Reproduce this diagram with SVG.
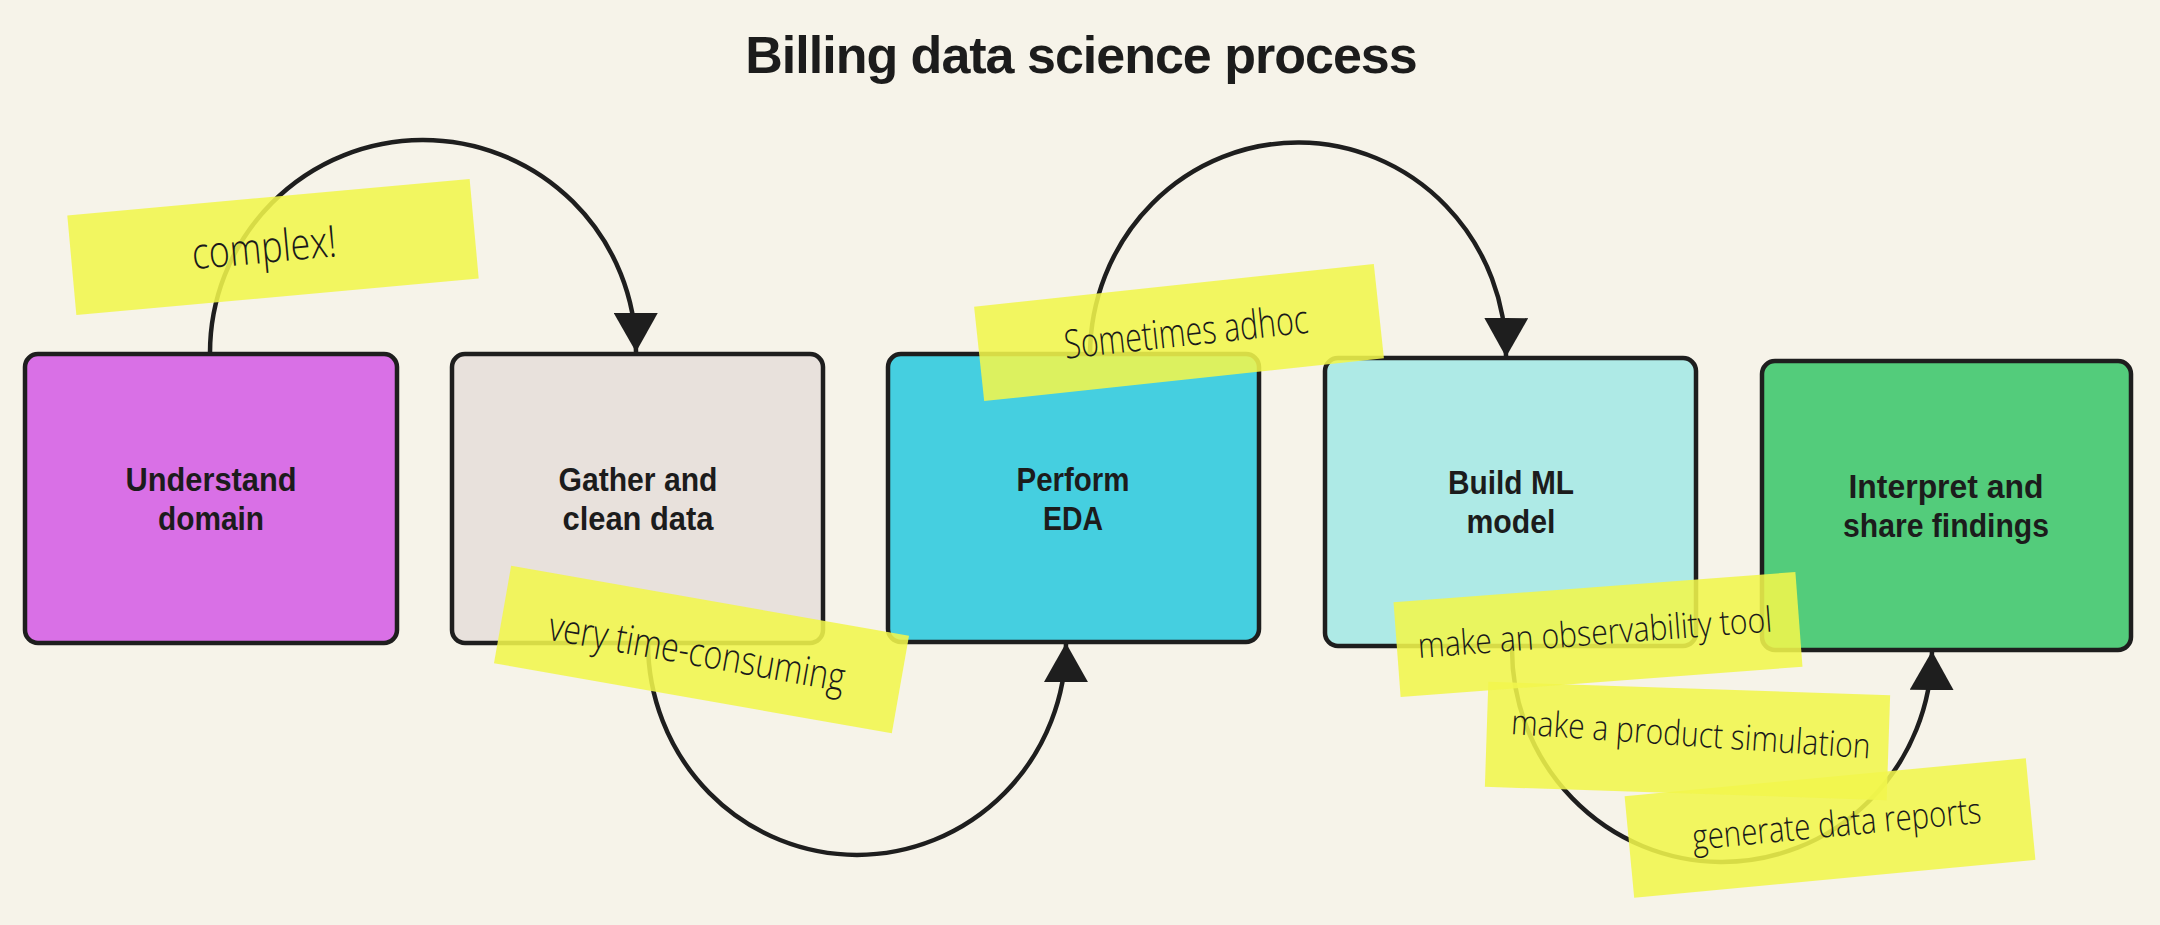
<svg xmlns="http://www.w3.org/2000/svg" width="2160" height="925" viewBox="0 0 2160 925">
<defs>
<style>
.bg{fill:#f6f3e9}
.box{stroke:#1e1e1e;stroke-width:4.5}
.lbl{font-family:"Liberation Sans",Arial,sans-serif;font-weight:700;font-size:34px;fill:#1c1c1c;text-anchor:middle}
.title{font-family:"Liberation Sans",Arial,sans-serif;font-weight:700;font-size:52px;letter-spacing:-1px;fill:#1c1c1c;text-anchor:middle}
.conn{fill:none;stroke:#1e1e1e;stroke-width:4.5}
.note{fill:#f1f64c;fill-opacity:0.88}
.hand{font-family:"Open Sans",Lato,"DejaVu Sans",sans-serif;font-weight:300;fill:#1a1a1a;text-anchor:middle}
</style>
<marker id="arrow" markerUnits="userSpaceOnUse" markerWidth="40" markerHeight="44" refX="39" refY="22" orient="auto">
<path d="M0,0 L39,22 L0,44 Z" fill="#1e1e1e"/>
</marker>
</defs>
<rect class="bg" x="0" y="0" width="2160" height="925"/>
<text class="title" x="1081" y="73">Billing data science process</text>

<g id="connectors">
<path class="conn" d="M210,354 A213,213 0 0 1 636,352" marker-end="url(#arrow)"/>
<path class="conn" d="M648,643 A209,212 0 0 0 1066,643" marker-end="url(#arrow)"/>
<path class="conn" d="M1090,354 A208,213 0 0 1 1506,357" marker-end="url(#arrow)"/>
<path class="conn" d="M1512,647 A210,213 0 0 0 1932,651" marker-end="url(#arrow)"/>
</g>

<g id="node-understand">
<rect class="box" x="25" y="354" width="372" height="289" rx="13" fill="#d970e6"/>
<text class="lbl" x="211" y="491" textLength="171" lengthAdjust="spacingAndGlyphs">Understand</text>
<text class="lbl" x="211" y="530" textLength="106" lengthAdjust="spacingAndGlyphs">domain</text>
</g>
<g id="node-gather">
<rect class="box" x="452" y="354" width="371" height="289" rx="13" fill="#e8e1dc"/>
<text class="lbl" x="638" y="491" textLength="159" lengthAdjust="spacingAndGlyphs">Gather and</text>
<text class="lbl" x="638" y="530" textLength="151" lengthAdjust="spacingAndGlyphs">clean data</text>
</g>
<g id="node-eda">
<rect class="box" x="888" y="354" width="371" height="288" rx="13" fill="#45cfe0"/>
<text class="lbl" x="1073" y="491" textLength="113" lengthAdjust="spacingAndGlyphs">Perform</text>
<text class="lbl" x="1073" y="530" textLength="60" lengthAdjust="spacingAndGlyphs">EDA</text>
</g>
<g id="node-ml">
<rect class="box" x="1325" y="358" width="371" height="288" rx="13" fill="#aeeae6"/>
<text class="lbl" x="1511" y="494" textLength="126" lengthAdjust="spacingAndGlyphs">Build ML</text>
<text class="lbl" x="1511" y="533" textLength="89" lengthAdjust="spacingAndGlyphs">model</text>
</g>
<g id="node-share">
<rect class="box" x="1762" y="361" width="369" height="289" rx="13" fill="#53cc7b"/>
<text class="lbl" x="1946" y="498" textLength="195" lengthAdjust="spacingAndGlyphs">Interpret and</text>
<text class="lbl" x="1946" y="537" textLength="206" lengthAdjust="spacingAndGlyphs">share findings</text>
</g>

<g id="note-complex" transform="translate(273,247) rotate(-5.2)">
<rect class="note" x="-202" y="-50" width="404" height="100"/>
<text class="hand" x="-9" y="15" font-size="44" textLength="145" lengthAdjust="spacingAndGlyphs">complex!</text>
</g>
<g id="note-time" transform="translate(701.5,649.5) rotate(10)">
<rect class="note" x="-202" y="-49.5" width="404" height="99"/>
<text class="hand" x="-4" y="17" font-size="40" textLength="300" lengthAdjust="spacingAndGlyphs">very time-consuming</text>
</g>
<g id="note-adhoc" transform="translate(1179,332.5) rotate(-6.1)">
<rect class="note" x="-201" y="-47.5" width="402" height="95"/>
<text class="hand" x="7" y="14" font-size="40" textLength="245" lengthAdjust="spacingAndGlyphs">Sometimes adhoc</text>
</g>
<g id="note-report" transform="translate(1830,828) rotate(-5.4)">
<rect class="note" x="-201.5" y="-51" width="403" height="102"/>
<text class="hand" x="7" y="9" font-size="36" textLength="290" lengthAdjust="spacingAndGlyphs">generate data reports</text>
</g>
<g id="note-sim" transform="translate(1687.5,741) rotate(1.9)">
<rect class="note" x="-201" y="-52.5" width="402" height="105"/>
<text class="hand" x="3" y="5" font-size="35" textLength="360" lengthAdjust="spacingAndGlyphs" transform="rotate(2)">make a product simulation</text>
</g>
<g id="note-tool" transform="translate(1598,634.5) rotate(-4.3)">
<rect class="note" x="-201.5" y="-47.5" width="403" height="95"/>
<text class="hand" x="-3" y="10" font-size="35" textLength="355" lengthAdjust="spacingAndGlyphs">make an observability tool</text>
</g>
</svg>
